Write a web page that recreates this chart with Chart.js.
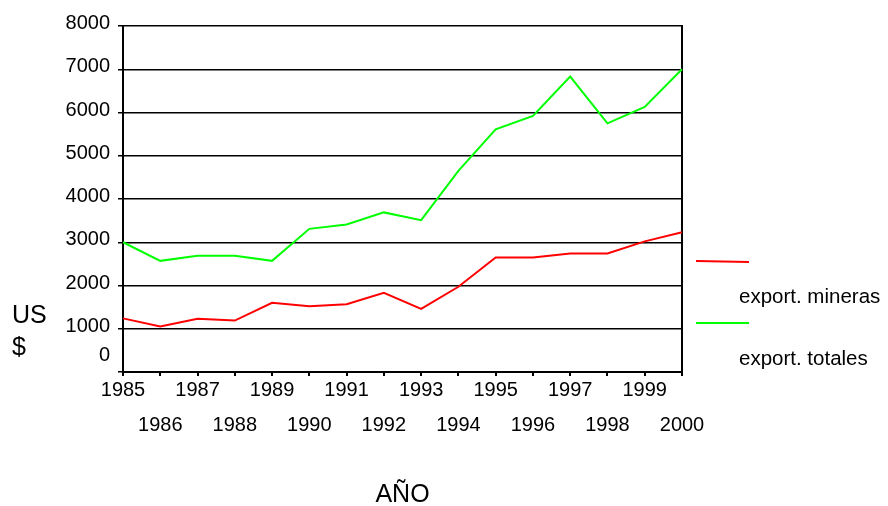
<!DOCTYPE html>
<html><head><meta charset="utf-8">
<script src="https://cdn.jsdelivr.net/npm/chart.js@4/dist/chart.umd.min.js"></script>
<style>html,body{margin:0;padding:0;background:#fff}canvas{display:block}</style>
</head><body>
<canvas id="c" width="888" height="506"></canvas>
<script>
const years = ['1985','1986','1987','1988','1989','1990','1991','1992','1993','1994','1995','1996','1997','1998','1999','2000'];
const mineras = [1240,1050,1230,1190,1600,1520,1565,1830,1460,1970,2650,2650,2740,2740,3020,3230];
const totales = [3000,2570,2690,2690,2570,3310,3410,3690,3510,4650,5610,5920,6830,5750,6130,7000];
const yTicks = [0,1000,2000,3000,4000,5000,6000,7000,8000];
const seriesNames = ['export. mineras','export. totales'];
const seriesColors = ['#ff0000','#00ff00'];
const xTitle = 'AÑO';
const yTitleLines = ['US','$'];

const FONT = "'Liberation Sans', Arial, sans-serif";

const extras = {
  id: 'extras',
  afterDraw(chart) {
    const ctx = chart.ctx;
    ctx.save();
    // y-axis title, horizontal, two lines
    ctx.fillStyle = '#000';
    ctx.font = '25px ' + FONT;
    ctx.textAlign = 'left';
    ctx.textBaseline = 'middle';
    yTitleLines.forEach((t, i) => ctx.fillText(t, 12, 316 + i * 32));
    // legend: line, then label below
    chart.data.datasets.forEach((ds, i) => {
      const y = 261 + i * 62;
      ctx.strokeStyle = ds.borderColor;
      ctx.lineWidth = 2;
      ctx.beginPath();
      ctx.moveTo(696, y);
      ctx.lineTo(749, y + (i === 0 ? 1 : 0));
      ctx.stroke();
      ctx.fillStyle = '#000';
      ctx.font = '20.5px ' + FONT;
      ctx.textAlign = 'left';
      ctx.textBaseline = 'middle';
      ctx.fillText(ds.label, 739, y + 36);
    });
    ctx.restore();
  }
};

new Chart(document.getElementById('c'), {
  type: 'line',
  data: {
    labels: years,
    datasets: [
      { label: seriesNames[0], data: mineras, borderColor: seriesColors[0], backgroundColor: seriesColors[0], borderWidth: 2, pointRadius: 0, tension: 0, yAxisID: 'y' },
      { label: seriesNames[1], data: totales, borderColor: seriesColors[1], backgroundColor: seriesColors[1], borderWidth: 2, pointRadius: 0, tension: 0, yAxisID: 'y' }
    ]
  },
  options: {
    responsive: false,
    animation: false,
    devicePixelRatio: 1,
    layout: { padding: { top: 26, right: 206, bottom: 0, left: 0 } },
    plugins: { legend: { display: false }, tooltip: { enabled: false } },
    scales: {
      x: {
        type: 'category',
        offset: false,
        grid: { drawOnChartArea: false, drawTicks: true, tickLength: 4, color: '#000', lineWidth: 2 },
        border: { color: '#000', width: 2 },
        ticks: {
          autoSkip: false, maxRotation: 0, minRotation: 0, padding: -3.5, color: '#000',
          font: { family: FONT, size: 20, lineHeight: 1.75 },
          callback: (v, i) => i % 2 === 0 ? [years[i], ''] : ['', years[i]]
        },
        title: { display: true, text: xTitle, color: '#000', font: { family: FONT, size: 25, lineHeight: 0.9 }, padding: { top: 0, bottom: 0 } },
        afterFit: s => { s.height = 134; }
      },
      y: {
        position: 'left',
        min: 0, max: 8000,
        afterBuildTicks: s => { s.ticks = yTicks.map(v => ({ value: v })); },
        grid: { color: '#000', lineWidth: 1.5, tickLength: 5, drawTicks: true },
        border: { color: '#000', width: 2 },
        ticks: {
          autoSkip: false,
          padding: 8, labelOffset: -2.5, color: '#000',
          font: { family: FONT, size: 20, lineHeight: 1.4 },
          callback: v => v === 0 ? ['0', ''] : String(v)
        },
        afterFit: s => { s.width = 123; }
      },
      y2: {
        position: 'right',
        display: true,
        min: 0, max: 8000,
        grid: { drawOnChartArea: false, drawTicks: false },
        border: { display: true, color: '#000', width: 2 },
        ticks: { display: false },
        afterFit: s => { s.width = 0; }
      }
    }
  },
  plugins: [extras]
});
</script>
</body></html>
